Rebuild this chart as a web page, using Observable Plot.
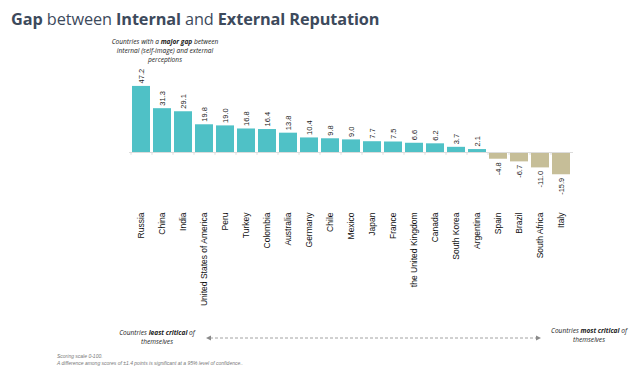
<!DOCTYPE html>
<html>
<head>
<meta charset="utf-8">
<script src="https://cdn.jsdelivr.net/npm/d3@7"></script>
<script src="https://cdn.jsdelivr.net/npm/@observablehq/plot@0.6"></script>
<style>
  html, body { margin: 0; padding: 0; background: #fff; }
  #wrap { position: relative; width: 640px; height: 387px; overflow: hidden; font-family: "Liberation Sans", Arial, sans-serif; }
  #chart { position: absolute; left: 0; top: 0; }
  .title { position: absolute; left: 11px; top: 8px; font-family: "Open Sans", sans-serif; font-size: 16.3px; color: #3d4a5c; white-space: nowrap; letter-spacing: -0.1px; }
  .title b { font-weight: 700; }
  .note { position: absolute; font-family: "Open Sans", sans-serif; font-style: italic; font-size: 6.6px; line-height: 9px; color: #222; text-align: center; white-space: nowrap; }
  .note b { font-weight: 700; }
  .foot { position: absolute; left: 57px; top: 353px; font-size: 5px; line-height: 6.5px; color: #777; font-style: italic; white-space: nowrap; }
</style>
</head>
<body>
<div id="wrap">
  <div id="chart"></div>
  <div class="title"><b>Gap</b> between <b>Internal</b> and <b>External Reputation</b></div>
  <div class="note" style="left:104px; top:37px; width:122px;">Countries with a <b>major gap</b> between<br>internal (self-image) and external<br>perceptions</div>
  <div class="note" style="left:104px; top:328px; width:106px;">Countries <b>least critical</b> of<br>themselves</div>
  <div class="note" style="left:544px; top:326px; width:90px;">Countries <b>most critical</b> of<br>themselves</div>
  <svg style="position:absolute; left:0; top:0;" width="640" height="387">
    <line x1="210" y1="338" x2="537" y2="338" stroke="#8a8a8a" stroke-width="0.8" stroke-dasharray="3,2"/>
    <path d="M206,338 L211,335.5 L211,340.5 Z" fill="#8a8a8a"/>
    <path d="M541,338 L536,335.5 L536,340.5 Z" fill="#8a8a8a"/>
  </svg>
  <div class="foot">Scoring scale 0-100.<br>A difference among scores of ±1.4 points is significant at a 95% level of confidence..</div>
</div>
<script>
const countries = ["Russia","China","India","United States of America","Peru","Turkey","Colombia","Australia","Germany","Chile","Mexico","Japan","France","the United Kingdom","Canada","South Korea","Argentina","Spain","Brazil","South Africa","Italy"];
const gaps = [47.2,31.3,29.1,19.8,19.0,16.8,16.4,13.8,10.4,9.8,9.0,7.7,7.5,6.6,6.2,3.7,2.1,-4.8,-6.7,-11.0,-15.9];

const data = countries.map((c, i) => ({country: c, gap: gaps[i]}));
const pos = data.filter(d => d.gap >= 0);
const neg = data.filter(d => d.gap < 0);

const chart = Plot.plot({
  width: 640,
  height: 387,
  marginLeft: 129,
  marginRight: 67,
  marginTop: 0,
  marginBottom: 182,
  style: {fontFamily: "Liberation Sans, Arial, sans-serif", background: "transparent"},
  x: {domain: countries, padding: 0.14, label: null},
  y: {domain: [-50, 50], range: [222, 82], axis: null},
  marks: [
    Plot.barY(data, {x: "country", y: "gap", fill: d => d.gap >= 0 ? "#4FC1C6" : "#C6BE98"}),
    Plot.ruleY([0], {stroke: "#dcdcdc", strokeWidth: 1}),
    Plot.ruleX(countries, {x: d => d, dx: -10.5, y1: 0, y2: -2, stroke: "#dcdcdc"}),
    Plot.text(pos, {x: "country", y: "gap", text: d => d.gap.toFixed(1), rotate: -90, textAnchor: "start", dy: -3, fontSize: 7.5, fill: "#222"}),
    Plot.text(neg, {x: "country", y: "gap", text: d => d.gap.toFixed(1), rotate: -90, textAnchor: "end", dy: 3, fontSize: 7.5, fill: "#222"}),
    Plot.axisX({anchor: "bottom", tickSize: 0, tickPadding: 7, tickRotate: -90, fontSize: 8.5, label: null, color: "#111"})
  ]
});
document.getElementById("chart").appendChild(chart);
</script>
</body>
</html>
